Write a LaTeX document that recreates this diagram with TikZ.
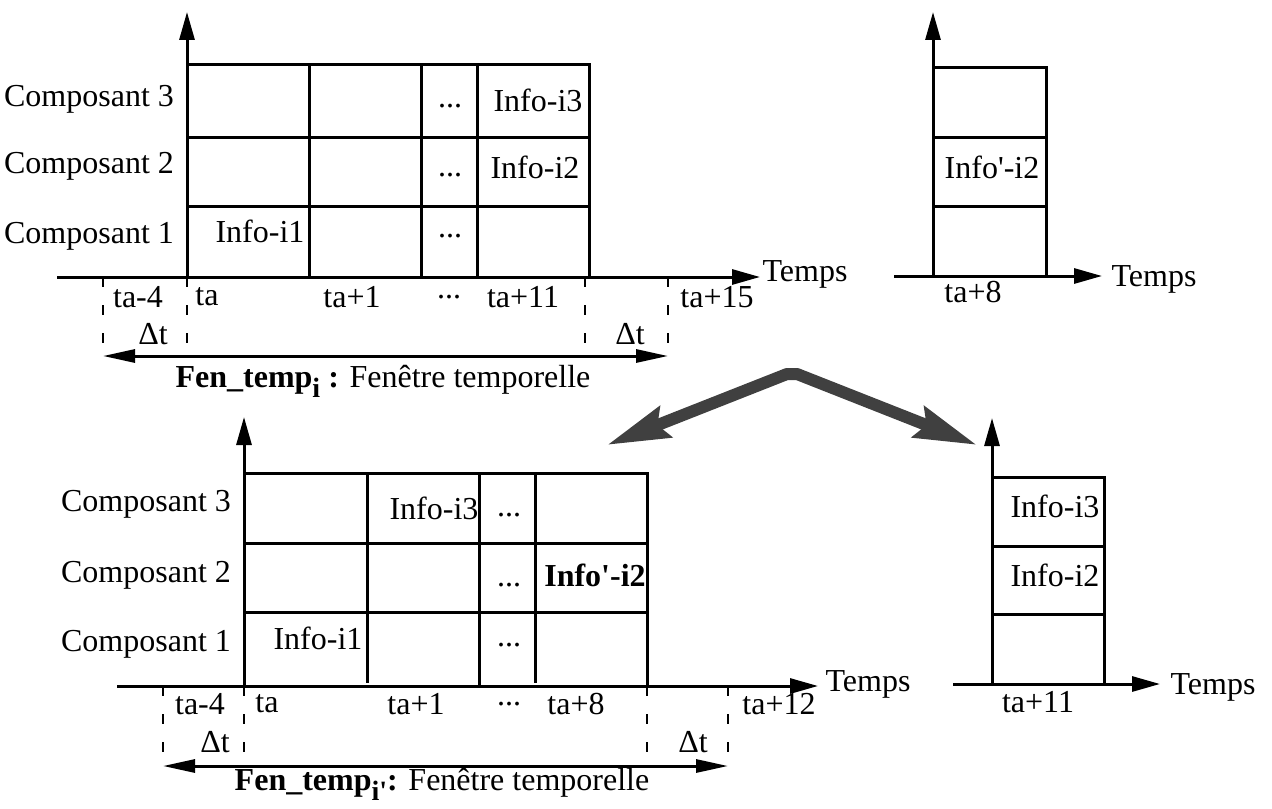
\documentclass[tikz,border=0pt]{standalone}
\usepackage{fontspec}
\setmainfont{Liberation Serif}
\usetikzlibrary{arrows.meta}
\newcommand{\indbas}[1]{\raisebox{-0.34em}{\fontsize{14}{16}\selectfont\bfseries #1}}

\begin{document}
\begin{tikzpicture}[x=0.5pt,y=-0.5pt,font=\fontsize{16}{19}\selectfont,
 axe/.style={line width=1.5pt,-{Triangle[length=14pt,width=7.5pt]}},
 grille/.style={line width=1.5pt},
 pointille/.style={line width=1pt,dash pattern=on 5pt off 9pt},
 fenetre/.style={line width=1.5pt,{Triangle[length=16pt,width=6.5pt]}-{Triangle[length=16pt,width=6.5pt]}},
 gros/.style={line width=6pt,draw=black!75,line join=bevel,{Stealth[length=31pt,width=16pt,inset=4pt]}-{Stealth[length=31pt,width=16pt,inset=4pt]}}]
 \useasboundingbox (0,0) rectangle (1272,808);
 % fenetre i
 \coordinate (o1) at (187,277);
 \draw[grille] (187,65) rectangle (589,277);
 \draw[grille] (187,137) -- (589,137) (187,206) -- (589,206);
 \draw[grille] (309,65) -- (309,277) (421,65) -- (421,277) (477,65) -- (477,277);
 \draw[axe] (57,277) -- (760,277);
 \draw[axe] (o1) -- (187,12);
 \node (temps1) at (805,274) {Temps};
 \node[anchor=east] (c3a) at (181,99) {Composant 3};
 \node[anchor=east] (c2a) at (181,166) {Composant 2};
 \node[anchor=east] (c1a) at (181,236) {Composant 1};
 \node (i1a) at (260,231) {Info-i1};
 \node (i2a) at (535,167) {Info-i2};
 \node (i3a) at (538,100) {Info-i3};
 \node (p3a) at (450,106) {...};
 \node (p2a) at (450,175) {...};
 \node (p1a) at (450,236) {...};
 \coordinate (g1) at (103,356); \coordinate (d1) at (668,356);
 \draw[pointille] (103,277) -- (g1) (187,277) -- (187,356) (585,277) -- (585,356) (668,277) -- (d1);
 \draw[fenetre] (g1) -- (d1);
 \node (ta4a) at (138,297) {ta-4};
 \node (taa) at (207,297) {ta};
 \node (ta1a) at (352,297) {ta+1};
 \node (pta) at (449,297) {...};
 \node (ta11a) at (523,297) {ta+11};
 \node (ta15a) at (717,297) {ta+15};
 \node (dt1a) at (153,334) {Δt};
 \node (dt2a) at (630,334) {Δt};
 \node[anchor=base] (fen1) at (383,387) {\textbf{Fen\_temp\indbas{i} :} Fenêtre temporelle};
 % composants a ta+8
 \draw[grille] (933,68) rectangle (1046,276);
 \draw[grille] (933,137) -- (1046,137) (933,206) -- (1046,206);
 \draw[axe] (894,276) -- (1102,276);
 \draw[axe] (933,276) -- (933,12);
 \node (temps2) at (1154,279) {Temps};
 \node (ta8b) at (973,292) {ta+8};
 \node (i2b) at (992,167) {Info\textquotesingle-i2};
 % fenetre i'
 \draw[grille] (244,473) rectangle (647,686);
 \draw[grille] (244,543) -- (647,543) (244,612) -- (647,612);
 \draw[grille] (367,473) -- (367,683) (479,473) -- (479,686) (535,473) -- (535,683);
 \draw[axe] (117,686) -- (818,686);
 \draw[axe] (244,686) -- (244,417);
 \node (temps3) at (868,684) {Temps};
 \node[anchor=east] (c3c) at (238,504) {Composant 3};
 \node[anchor=east] (c2c) at (238,575) {Composant 2};
 \node[anchor=east] (c1c) at (238,644) {Composant 1};
 \node (i3c) at (434,508) {Info-i3};
 \node[font=\fontsize{16}{19}\selectfont\bfseries] (i2c) at (595,575) {Info\textquotesingle-i2};
 \node (i1c) at (318,638) {Info-i1};
 \node (p3c) at (509,515) {...};
 \node (p2c) at (509,585) {...};
 \node (p1c) at (509,645) {...};
 \coordinate (g2) at (163,766); \coordinate (d2) at (728,766);
 \draw[pointille] (163,686) -- (g2) (244,686) -- (244,766) (647,686) -- (647,766) (728,686) -- (d2);
 \draw[fenetre] (g2) -- (d2);
 \node (ta4c) at (200,704) {ta-4};
 \node (tac) at (267,704) {ta};
 \node (ta1c) at (416,704) {ta+1};
 \node (ptc) at (509,704) {...};
 \node (ta8c) at (576,704) {ta+8};
 \node (ta12c) at (779,704) {ta+12};
 \node (dt1c) at (215,742) {Δt};
 \node (dt2c) at (693,742) {Δt};
 \node[anchor=base] (fen2) at (442,790) {\textbf{Fen\_temp\indbas{i\textquotesingle}:} Fenêtre temporelle};
 % composants a ta+11
 \draw[grille] (992,477) rectangle (1104,684);
 \draw[grille] (992,546) -- (1106,546) (992,614) -- (1106,614);
 \draw[axe] (953,684) -- (1160,684);
 \draw[axe] (992,684) -- (992,418);
 \node (temps4) at (1213,687) {Temps};
 \node (ta11d) at (1038,702) {ta+11};
 \node (i3d) at (1055,506) {Info-i3};
 \node (i2d) at (1055,575) {Info-i2};
 % double fleche
 \coordinate (sommet1) at (787,374); \coordinate (sommet2) at (797,374);
 \coordinate (bout1) at (607,445); \coordinate (bout2) at (977,445);
 \draw[gros] (bout1) -- (sommet1) -- (sommet2) -- (bout2);
\end{tikzpicture}
\end{document}
